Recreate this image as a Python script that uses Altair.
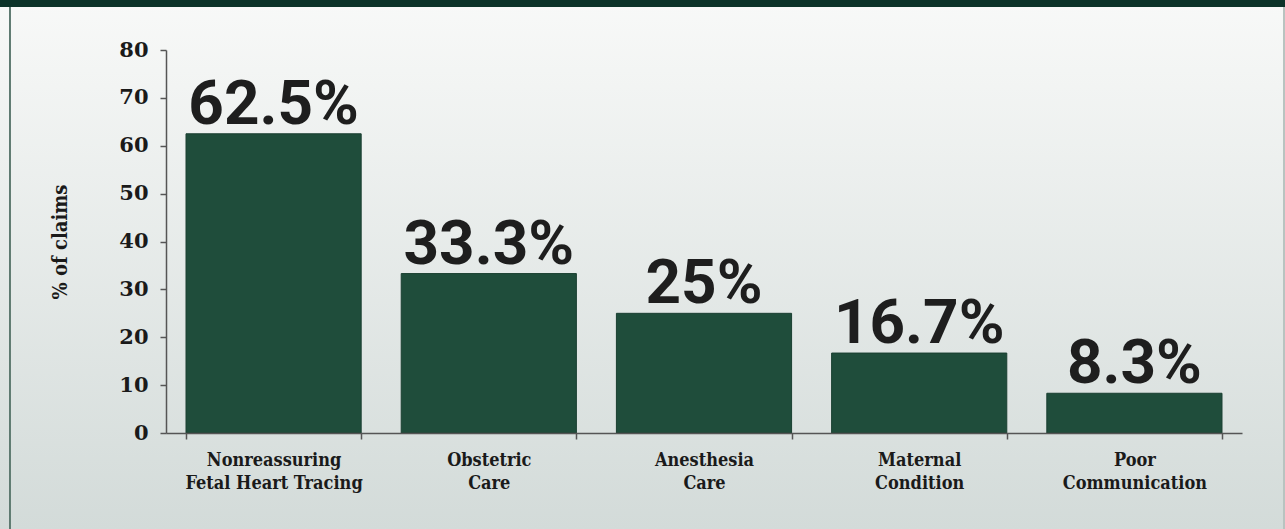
import altair as alt
import pandas as pd

categories = ["Nonreassuring|Fetal Heart Tracing", "Obstetric|Care", "Anesthesia|Care",
              "Maternal|Condition", "Poor|Communication"]
values = [62.5, 33.3, 25.0, 16.7, 8.3]
value_labels = ["62.5%", "33.3%", "25%", "16.7%", "8.3%"]
y_ticks = [0, 10, 20, 30, 40, 50, 60, 70, 80]

df = pd.DataFrame({"cat": categories, "val": values, "lab": value_labels})

W, H = 1076, 383
PL, PT, PR, PB = 166, 50, 43, 96

SERIF_C = "'DejaVu Serif Condensed', 'DejaVu Serif', serif"
SERIF = "'DejaVu Serif', serif"
NARROW = "Roboto, 'DejaVu Sans Condensed', sans-serif"

bg_grad = {
    "gradient": "linear", "x1": 0, "y1": 0, "x2": 0, "y2": 1,
    "stops": [{"offset": 0, "color": "#f8f9f8"}, {"offset": 1, "color": "#d3dbd9"}],
}

base = alt.Chart(df)

background = base.mark_rect(fill=bg_grad).encode(
    x=alt.value(-PL), x2=alt.value(W + PR), y=alt.value(-PT), y2=alt.value(H + PB)
)
top_band = base.mark_rect(fill="#0c3329").encode(
    x=alt.value(-PL), x2=alt.value(W + PR), y=alt.value(-PT), y2=alt.value(-PT + 7)
)
left_line = base.mark_rect(fill="#5e7a71").encode(
    x=alt.value(-PL + 9), x2=alt.value(-PL + 10.5), y=alt.value(-PT + 7), y2=alt.value(H + PB)
)
right_line = base.mark_rect(fill="#b9c3c0").encode(
    x=alt.value(W + PR - 2), x2=alt.value(W + PR), y=alt.value(-PT + 7), y2=alt.value(H + PB)
)

x_enc = alt.X(
    "cat:N", sort=categories, title=None,
    scale=alt.Scale(paddingInner=0.186, paddingOuter=0.093),
    axis=alt.Axis(
        zindex=2,
        labelAngle=0, labelExpr="split(datum.label, '|')",
        labelFont=SERIF_C, labelFontWeight="bold", labelFontSize=18, labelColor="#1a1a1a",
        labelLineHeight=23, labelPadding=12, labelBaseline="top",
        tickBand="extent", tickSize=6, tickColor="#555", domainColor="#555",
        tickWidth=1.5, domainWidth=1.5,
    ),
)

bars = base.mark_bar(color="#1f4d3b", stroke="#1a3f31", strokeWidth=1).encode(
    x=x_enc,
    y=alt.Y(
        "val:Q", title="% of claims",
        scale=alt.Scale(domain=[0, 80], nice=False),
        axis=alt.Axis(
            zindex=2,
            values=y_ticks, grid=False,
            labelFont=SERIF, labelFontWeight="bold", labelFontSize=21, labelColor="#1a1a1a",
            labelPadding=12, tickSize=6, tickColor="#555", domainColor="#555",
            tickWidth=1.5, domainWidth=1.5,
            titleFont=SERIF_C, titleFontWeight="bold", titleFontSize=20, titleColor="#1a1a1a",
            titleX=-106, titleY=H / 2, titleAngle=-90, titleBaseline="middle", titleAlign="center",
        ),
    ),
)

texts = base.mark_text(
    font=NARROW, fontWeight="bold", fontSize=62, color="#1e1e1e",
    baseline="alphabetic", dy=-10,
).encode(
    x=alt.X("cat:N", sort=categories),
    y="val:Q",
    text="lab:N",
)

chart = alt.layer(background, top_band, left_line, right_line, bars, texts).properties(
    width=W, height=H,
    autosize=alt.AutoSizeParams(type="none"),
    padding={"left": PL, "top": PT, "right": PR, "bottom": PB},
    background="#e8ecea",
).configure_view(stroke=None)

chart.save("out.html", embed_options={"renderer": "svg", "actions": False})
